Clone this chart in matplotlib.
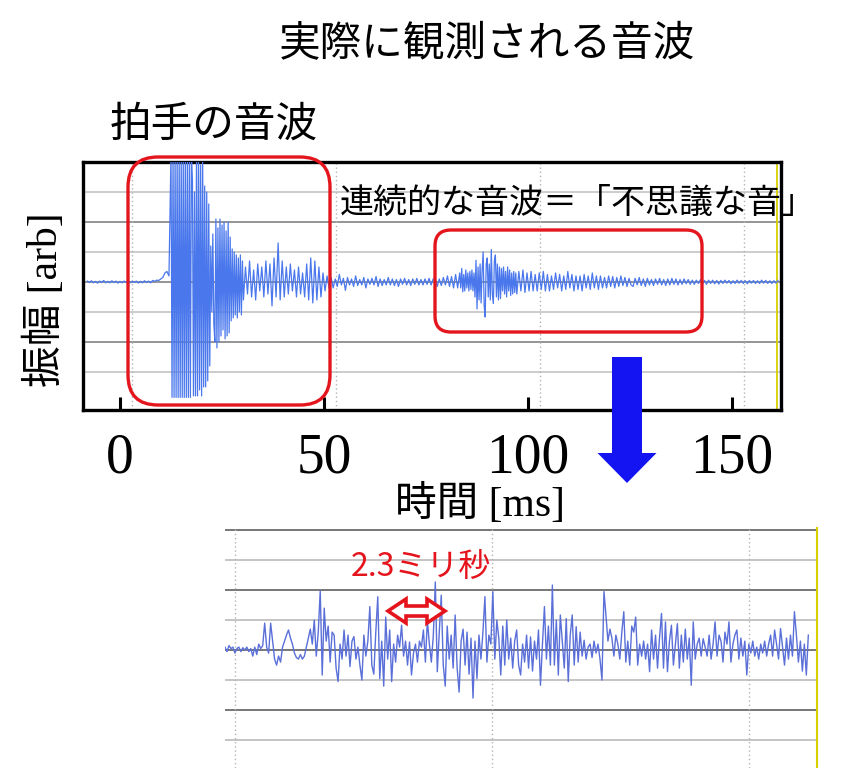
import numpy as np
import matplotlib
matplotlib.use("Agg")
import matplotlib.pyplot as plt
from matplotlib.patches import FancyBboxPatch, FancyArrow, Polygon

plt.rcParams['font.family'] = ['Noto Sans CJK JP', 'DejaVu Sans']
MIXED = ['Liberation Serif', 'Noto Sans CJK JP']

# upper trace [arb], read piece by piece; each piece has its own sample step (ms)
T0 = -8.0
quiet_start = [0.03, -0.02, 0.04, -0.03, 0.02, -0.04, 0.03, -0.02, 0.05, -0.03,
               0.02, -0.03, 0.04, -0.02, 0.03, -0.04, 0.02, -0.03, 0.03, -0.02,
               0.04, -0.03, 0.02, -0.02, 0.03, -0.04, 0.02, -0.03, 0.04, -0.02,
               0.03, -0.03, 0.05, 0.02, 0.06, 0.05, 0.1, 0.15, 0.3, 0.35, 0.2]
clap_clip = [4.3, -3.85, 4.3, -3.85, 4.3, -3.85, 4.3, -3.85, 4.3, -3.85, 4.3,
             -3.85, 4.3, -3.85, 4.3, -3.85, 4.3, -3.85, 4.3, -3.85, 4.3]
clap_decay = [3.4, -3.8, 3.0,
              -3.8, 4.3, -3.8, 4.3, -3.6, 3.9, -3.8, 4.3, -3.5,
              3.2, -3.5, 3.0, -3.3, 2.6, -2.8,
              1.2, -1.0, 1.6, -1.4,
              -2.0, 2.1, -2.2, 1.8, -2.0, 2.1, -1.8, 1.9,
              -1.6, 2.0, -1.9, 1.7, -1.8, 2.0, -1.7, 1.5,
              -1.3, 1.1, -1.2, 1.0, -1.1, 0.9, -1.2, 0.8, -1.0, 0.9, -1.1, 0.7]
clap_tail = [-0.6, 0.5, -0.4, 0.7, -0.5, 0.4, -0.6, 0.6, -0.3, 0.5,
             -0.5, 0.7, -0.4, 0.6, -0.8, 0.8, -0.5, 1.3, -0.6, 0.7,
             -0.5, 0.5, -0.4, 0.6, -0.3, 0.4, -0.5, 0.5, -0.4, 0.3,
             -0.5, 0.6, -0.6, 0.8, -0.7, 0.7, -0.6, 0.5, -0.5, 0.3,
             -0.3, 0.2, -0.2]
gap_noise = [0.15, -0.2, 0.1, -0.15, 0.25, -0.1, 0.12, -0.28, 0.15, -0.1,
             0.1, -0.15, 0.2, -0.12, 0.08, -0.1, 0.15, -0.2, 0.1, -0.08,
             0.12, -0.1, 0.18, -0.15, 0.1, -0.12, 0.08, -0.1, 0.15, -0.1,
             0.1, -0.12, 0.08, -0.15, 0.1, -0.08, 0.12, -0.1, 0.08, -0.12,
             0.1, -0.08, 0.12, -0.1, 0.08, -0.1, 0.1, -0.08, 0.12, -0.1, 0.1]
echo_onset = [0.12, -0.15, 0.1, -0.12, 0.15, -0.1, 0.2, -0.15, 0.18, -0.2, 0.25, -0.2]
echo_core = [0.3, -0.2, 0.45, -0.33, 0.25, -0.3, 0.4, -0.2, 0.3, -0.3, 0.35, -0.25, 0.4, -0.3, 0.3,
             -0.5, 0.72, -0.9, 0.5, -0.6, 0.6, -0.7, 0.4, 1.0, -0.8, -1.17, 0.6, 0.8, -0.5, 0.6,
             -0.6, 1.08, -0.4, -0.72, 0.7, 0.9, -0.5, 0.6, -0.6, 0.5,
             -0.55, 0.45, -0.3, 0.5, -0.4, 0.35, -0.5, 0.5, -0.3, 0.4, -0.45, 0.3, -0.4, 0.35, -0.35, 0.3]
echo_rest = [-0.4, 0.35, -0.3, 0.4, -0.35, 0.3, -0.3, 0.35, -0.3, 0.25, -0.3, 0.3, -0.25, 0.35, -0.3,
             0.25, -0.3, 0.2, -0.25, 0.3, -0.2, 0.25, -0.3, 0.2, -0.25, 0.35, -0.2, 0.25, -0.3,
             0.2, -0.25, 0.2, -0.3, 0.25, -0.2, 0.2, -0.25, 0.3, -0.2, 0.2, -0.25, 0.2,
             -0.2, 0.15, -0.2, 0.2, -0.15, 0.18, -0.2, 0.15, -0.15, 0.2, -0.12, 0.15, -0.15, 0.12, -0.1]
end_noise = [-0.15, 0.12, -0.1, 0.15, -0.12, 0.1, -0.15, 0.12, -0.1, 0.08,
             -0.12, 0.1, -0.08, 0.12, -0.1, 0.08, -0.12, 0.1, -0.1, 0.12,
             -0.08, 0.1, -0.1, 0.08, -0.08, 0.1, -0.06, 0.08, -0.08, 0.06,
             -0.08, 0.06, -0.05, 0.08, -0.06, 0.05, -0.08, 0.06, -0.05, 0.06,
             -0.06, 0.05, -0.07, 0.05, -0.05, 0.06, -0.04, 0.05, -0.06, 0.04,
             -0.05, 0.06, -0.04, 0.05, -0.05, 0.04, -0.06, 0.05, -0.04, 0.05,
             -0.05, 0.04, -0.05, 0.06, -0.04, 0.05, -0.05, 0.04, -0.05, 0.04,
             -0.04, 0.05]
pieces = [(quiet_start, 0.5), (clap_clip, 0.25), (clap_decay, 0.25), (clap_tail, 0.5),
          (gap_noise, 0.5), (echo_onset, 0.5), (echo_core, 0.25), (echo_rest, 0.5),
          (end_noise, 0.5)]

# lower (zoomed) trace, one value every 0.08 ms
DT_ZOOM = 0.08
zoom_wave = [0.1, -0.05, 0.15, 0.05, 0.1, -0.1, 0.05, 0.1, -0.05, 0.08,
             0.0, 0.1, -0.05, 0.05, -0.2, 0.1, -0.15, 0.2, 0.05, 0.15,
             0.9, 0.1, -0.1, 0.9, 0.3, -0.3, -0.5, -0.2, -0.4, 0.1,
             0.3, 0.5, 0.67, 0.4, 0.2, -0.1, -0.25, -0.3, -0.15, -0.3,
             -0.2, 0.1, 0.4, 0.7, 0.2, 1.0, -0.2, 0.6, 1.97, -0.83,
             1.4, 0.3, 0.8, -0.4, 0.6, 0.5, -0.6, -1.05, 0.2, -0.3,
             0.67, -0.2, 0.5, -0.55, 0.3, 0.45, -0.3, 0.1, -0.5, -1.0,
             0.5, -0.2, 0.3, 1.45, -0.5, -0.8, 0.6, 1.78, -0.95, 0.3,
             -1.2, 1.1, -0.3, 0.67, -1.05, 0.2, -0.4, 0.5, 0.1, 0.83,
             -0.2, 0.3, -0.5, 0.27, -0.83, -0.1, 0.2, -0.4, 0.3, 0.1,
             0.67, -0.4, 1.0, 0.2, -0.4, 0.5, 2.27, -0.72, 0.6, 1.83,
             -0.5, -1.2, 0.8, -0.3, 0.5, -0.6, 1.17, -0.6, -1.4, 0.3,
             0.7, -0.5, 0.6, -0.8, 0.4, -1.6, 0.3, -0.95, 0.5, -0.3,
             0.6, 1.78, -0.4, 0.5, 0.2, 1.95, -0.3, 1.0, 0.4, -0.83,
             0.8, -0.5, 1.0, -0.3, 0.4, -0.6, 0.3, 0.67, -0.5, -0.83,
             0.2, -0.4, 0.5, -0.6, 0.44, -0.7, 0.3, -0.3, 0.67, -1.17,
             0.2, 1.45, -0.3, 0.8, -0.5, 2.17, -0.5, 1.0, -0.83, 1.17,
             0.3, -0.6, 1.05, -1.05, 0.5, 1.17, -0.5, 0.78, -0.4, 0.6,
             -0.2, 0.33, -0.3, 0.1, 0.2, -0.25, 0.3, -0.1, 0.2, -0.3,
             -1.0, 1.95, 1.17, 0.3, 0.7, 0.4, -0.2, 0.5, 0.2, -0.3,
             0.6, 1.28, -0.4, 0.3, -0.5, 0.8, 0.6, 1.1, -0.5, 0.2,
             -0.2, 0.3, -0.3, 0.2, -0.72, 0.67, -0.3, 0.5, -0.6, 0.4,
             1.22, -0.6, 0.94, -0.72, 0.3, 0.83, -0.5, 0.2, 0.88, -0.6,
             0.5, -0.4, 0.7, -0.3, 0.4, -1.17, 0.94, -0.3, 0.2, 0.4,
             -0.2, 0.38, 0.1, -0.2, 0.5, -0.3, 0.2, 0.94, -0.2, 0.5,
             0.3, -0.4, 0.6, 0.2, 0.94, -0.4, 0.2, 0.5, 0.67, -0.3,
             0.4, -0.2, 0.3, -0.83, 0.2, -0.1, 0.3, -0.2, 0.1, -0.3,
             0.2, -0.1, 0.3, -0.2, 0.2, 0.5, -0.2, 0.67, 0.2, -0.3,
             0.72, 0.1, -0.5, 0.4, -0.3, 0.5, -0.2, 1.28, 0.5, -0.4,
             0.3, -0.7, 0.2, -0.83, 0.5]

xticks = [0, 50, 100, 150]
top_levels = [-3, -2, -1, 0, 1, 2, 3]
zoom_levels = [-3, -2, -1, 0, 1, 2, 3, 4]

W, H = 853, 768
def box(x0, y0, x1, y1):
    return [x0 / W, 1 - y1 / H, (x1 - x0) / W, (y1 - y0) / H]

# time axis for the upper trace: pieces follow each other
times, vals = [], []
tcur = T0
for v, dt in pieces:
    times.append(tcur + dt * np.arange(len(v)))
    vals.append(v)
    tcur = times[-1][-1] + dt
t = np.concatenate(times)
wave = np.concatenate(vals)

fig = plt.figure(figsize=(W / 100, H / 100), dpi=100)

# ---- top plot
ax = fig.add_axes(box(83, 162, 781, 410))
for lv in top_levels:
    ax.axhline(lv, color='#8c8c8c' if lv % 2 == 0 else '#c8c8c8', lw=1.3, zorder=1)
for xv in [3, 53, 103, 153]:
    ax.axvline(xv, color='#b4b4b4', lw=1, ls=(0, (1, 2)), zorder=1)
ax.axvline(161, color='#d8cf00', lw=1.3, zorder=1)
ax.plot(t, wave, color='#4a78ec', lw=0.9, zorder=3)
ax.set_xlim(-9.07, 162.0)
ax.set_ylim(-4.27, 4.0)
ax.set_yticks([])
ax.set_xticks(xticks)
ax.set_xticklabels([str(v) for v in xticks], fontsize=40, family='Liberation Serif')
ax.tick_params(axis='x', direction='in', length=9.5, width=2.2, pad=16)
for s in ax.spines.values():
    s.set_linewidth(2.4)

# ---- zoomed plot
bx = fig.add_axes(box(225, 528, 817, 768))
tz = DT_ZOOM * np.arange(len(zoom_wave))
for lv in zoom_levels:
    bx.axhline(lv, color='#777777' if lv % 2 == 0 else '#c4c4c4', lw=1.4, zorder=1)
for xv in [0.4, 10.77, 21.13]:
    bx.axvline(xv, color='#b4b4b4', lw=1, ls=(0, (1, 2)), zorder=1)
bx.plot(tz, zoom_wave, color='#5a6fd8', lw=1.0, zorder=3)
bx.set_xlim(0, 23.87)
bx.set_ylim(-3.93, 4.07)
bx.set_xticks([])
bx.set_yticks([])
for k in ['left', 'bottom', 'top']:
    bx.spines[k].set_visible(False)
bx.spines['right'].set_color('#d8cf00')
bx.spines['right'].set_linewidth(1.5)

# ---- overlay for titles, boxes, arrows
ov = fig.add_axes([0, 0, 1, 1], zorder=10)
ov.set_xlim(0, W)
ov.set_ylim(H, 0)
ov.axis('off')
ov.patch.set_alpha(0)

red = '#e3161d'
ov.add_patch(FancyBboxPatch((128, 157), 202, 248, boxstyle='round,pad=0,rounding_size=30',
                            fc='none', ec=red, lw=2.4))
ov.add_patch(FancyBboxPatch((435, 230), 267, 102, boxstyle='round,pad=0,rounding_size=16',
                            fc='none', ec=red, lw=2.4))
ov.add_patch(FancyArrow(627, 357, 0, 126, width=30, head_width=59, head_length=30,
                        length_includes_head=True, color='#1414f2', lw=0))

# hollow double arrow marking the 2.3 ms period
x0, x1, yc, hl, hw, sw = 388, 445, 611, 18, 12, 5
ov.add_patch(Polygon([(x0, yc), (x0 + hl, yc - hw), (x0 + hl, yc - sw), (x1 - hl, yc - sw),
                      (x1 - hl, yc - hw), (x1, yc), (x1 - hl, yc + hw), (x1 - hl, yc + sw),
                      (x0 + hl, yc + sw), (x0 + hl, yc + hw)], closed=True,
                     fc='white', ec='#e5141c', lw=2.6, joinstyle='miter'))

ov.text(487, 45, '実際に観測される音波', fontsize=30, ha='center', va='center')
ov.text(110, 125, '拍手の音波', fontsize=30, ha='left', va='center')
ov.text(340, 203, '連続的な音波＝「不思議な音」', fontsize=24.5, ha='left', va='center')
ov.text(45, 300, '振幅 [arb]', fontsize=30, rotation=90, ha='center', va='center', family=MIXED)
ov.text(480, 504, '時間 [ms]', fontsize=30, ha='center', va='center', family=MIXED)
ov.text(421, 568, '2.3ミリ秒', fontsize=23, color='#e5141c', ha='center', va='center')

fig.savefig('out.png', dpi=100, facecolor='white')
